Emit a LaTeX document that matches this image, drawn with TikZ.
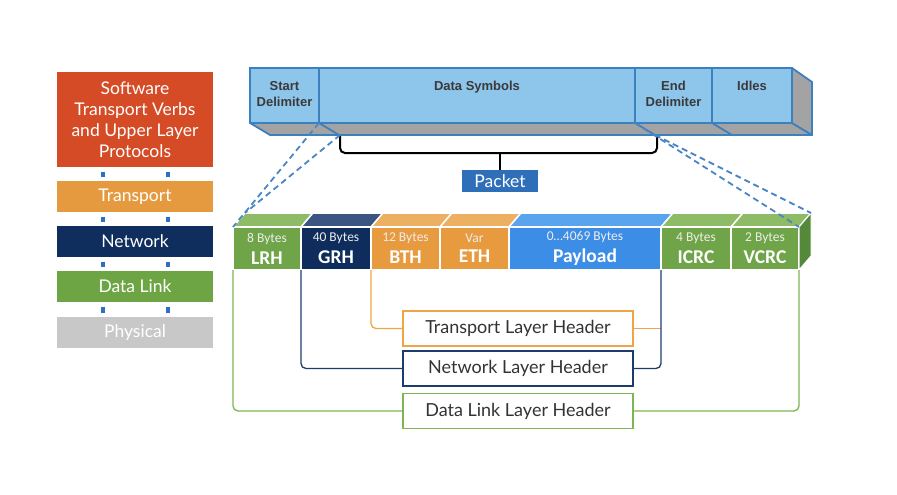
\documentclass[tikz,border=0pt]{standalone}
\usepackage{fontspec}
\setmainfont{Lato}
\newfontfamily\barfont{Liberation Sans}
\newfontfamily\fieldfont{Carlito}
\usepackage{tikz}
\usetikzlibrary{arrows.meta}

\definecolor{swRed}{HTML}{D44B26}
\definecolor{trOrange}{HTML}{E69A3F}
\definecolor{nwNavy}{HTML}{0F2E5E}
\definecolor{dlGreen}{HTML}{6DA545}
\definecolor{phGray}{HTML}{C8C8C8}
\definecolor{linkBlue}{HTML}{2E6FC2}
\definecolor{barBlue}{HTML}{8DC5EB}
\definecolor{barEdge}{HTML}{3D80C0}
\definecolor{barGray}{HTML}{A3A3A3}
\definecolor{barText}{HTML}{3A3A3A}
\definecolor{zoomBlue}{HTML}{4A86C5}
\definecolor{pkBlue}{HTML}{2F6FBA}
\definecolor{gFront}{HTML}{6FA548}
\definecolor{gTop}{HTML}{8DBB66}
\definecolor{gSide}{HTML}{55893A}
\definecolor{nFront}{HTML}{0E2D5C}
\definecolor{nTop}{HTML}{3A5581}
\definecolor{oFront}{HTML}{E89A3E}
\definecolor{oTop}{HTML}{EDB062}
\definecolor{bFront}{HTML}{3C8DE6}
\definecolor{bTop}{HTML}{5AA4EE}
\definecolor{smallText}{HTML}{EDEDED}
\definecolor{hOrange}{HTML}{F0A446}
\definecolor{hNavy}{HTML}{1D3C6C}
\definecolor{hGreen}{HTML}{7DB553}
\definecolor{hText}{HTML}{333333}

\begin{document}
\begin{tikzpicture}[x=1pt, y=-1pt, inner sep=0pt, outer sep=0pt]
            \useasboundingbox (0,0) rectangle (897,495);

            \tikzstyle{layer}=[anchor=north west, minimum width=156pt, minimum height=31pt, text=white, align=center, font=\fontsize{17.5}{21}\selectfont];
            \tikzstyle{stackdash}=[linkBlue, line width=3.5pt, shorten <=4.5pt, shorten >=4.5pt];
            \tikzstyle{cell}=[anchor=north west, minimum height=55pt, fill=barBlue, draw=barEdge, line width=1.8pt];
            \tikzstyle{barlabel}=[anchor=north, align=center, text=barText, font=\barfont\bfseries\fontsize{13}{16}\selectfont];
            \tikzstyle{zoomdash}=[zoomBlue, line width=1.8pt, dash pattern=on 6pt off 4pt];
            \tikzstyle{field}=[anchor=north west, minimum height=43pt, draw=white, line width=1.5pt, align=center, text=white, font=\fieldfont];
            \tikzstyle{hdr}=[draw, fill=white, line width=1.8pt, minimum width=230pt, minimum height=35pt, text=hText, font=\fontsize{18}{20}\selectfont];
            \tikzstyle{tie}=[line width=1.3pt, rounded corners=5pt];
            \tikzstyle{brace}=[black, line width=2pt, rounded corners=5pt];

            % protocol stack
            \node[layer, fill=swRed, minimum height=95pt] (sw) at (57,72) {Software\\Transport Verbs\\and Upper Layer\\Protocols};
            \node[layer, fill=trOrange] (tr) at (57,181) {Transport};
            \node[layer, fill=nwNavy] (nw) at (57,226) {Network};
            \node[layer, fill=dlGreen] (dl) at (57,271) {Data Link};
            \node[layer, fill=phGray] (ph) at (57,317) {Physical};
            \foreach \a/\b in {sw/tr,tr/nw,nw/dl,dl/ph}
                \foreach \dx in {46,111}
                    \draw[stackdash] ([xshift=\dx pt]\a.south west) -- ([xshift=\dx pt]\b.north west);

            % symbol stream
            \filldraw[fill=barGray, draw=barEdge, line width=1.8pt, line join=round] (250,123) -- (792,123) -- (812,135) -- (270,135) -- cycle;
            \filldraw[fill=barGray, draw=barEdge, line width=1.8pt, line join=round] (792,68) -- (812,82) -- (812,135) -- (792,123) -- cycle;
            \foreach \x in {319,635,712}
                \draw[barEdge, line width=1.8pt] (\x,123) -- ++(20,12);
            \node[cell, minimum width=69pt] (sd) at (250,68) {};
            \node[cell, minimum width=316pt] (ds) at (319,68) {};
            \node[cell, minimum width=77pt] (ed) at (635,68) {};
            \node[cell, minimum width=80pt] (id) at (712,68) {};
            \node[barlabel] (sdl) at (284.5,81) {Start\\Delimiter};
            \node[barlabel] (dsl) at (477,81) {Data Symbols};
            \node[barlabel] (edl) at (673.5,81) {End\\Delimiter};
            \node[barlabel] (idl) at (752,81) {Idles};

            % packet brace
            \coordinate (bl) at (340,136);
            \coordinate (br) at (657,136);
            \node[fill=pkBlue, text=white, minimum width=76pt, minimum height=22pt, font=\fontsize{17.5}{19}\selectfont] (pk) at (500,181) {Packet};
            \draw[brace] (bl) -- (340,153) -- (657,153) -- (br);
            \draw[brace] (pk.north) -- (500,153);

            % packet fields
            \foreach \n/\xa/\xb/\fc/\tc/\sz/\lb in {lrh/233/301/gFront/gTop/8 Bytes/LRH, grh/301/371/nFront/nTop/40 Bytes/GRH, bth/371/440/oFront/oTop/12 Bytes/BTH, eth/440/509/oFront/oTop/Var/ETH, pl/509/661/bFront/bTop/0…4069 Bytes/Payload, icrc/661/731/gFront/gTop/4 Bytes/ICRC, vcrc/731/799/gFront/gTop/2 Bytes/VCRC} {
                \filldraw[fill=\tc, draw=white, line width=1.5pt] (\xa,227) -- (\xa+12,213) -- (\xb+12,213) -- (\xb,227) -- cycle;
                \node[field, fill=\fc, minimum width={(\xb-\xa)*1pt}] (\n) at (\xa,227) {{\fontsize{13.5}{15}\selectfont\color{smallText}\sz}\\[6pt]{\fontsize{19.5}{22}\selectfont\bfseries\lb}};
            }
            \filldraw[fill=gSide, draw=white, line width=1pt] (vcrc.north east) -- (811,213) -- (811,256) -- (vcrc.south east) -- cycle;

            % zoom lines
            \coordinate (sdb) at (340,135);
            \coordinate (edb) at (655,135);
            \coordinate (lrhb) at (245,213);
            \coordinate (vcrcb) at (811,213);
            \draw[zoomdash] (sd.south east) -- (lrh.north west);
            \draw[zoomdash] (sdb) -- (lrhb);
            \draw[zoomdash] (ed.south west) -- (vcrc.north east);
            \draw[zoomdash] (edb) -- (vcrcb);

            % layer headers
            \node[hdr, draw=hOrange] (th) at (518,328.5) {Transport Layer Header};
            \node[hdr, draw=hNavy] (nh) at (518,368.5) {Network Layer Header};
            \node[hdr, draw=hGreen] (dh) at (518,411) {Data Link Layer Header};
            \draw[tie, hOrange] (bth.south west) |- (th.west);
            \draw[tie, hOrange] (th.east) -- (th.east -| pl.south east);
            \draw[tie, hNavy] (grh.south west) |- (nh.west);
            \draw[tie, hNavy] (nh.east) -| (pl.south east);
            \draw[tie, hGreen] (lrh.south west) |- (dh.west);
            \draw[tie, hGreen] (dh.east) -| (vcrc.south east);
         \end{tikzpicture}
\end{document}
